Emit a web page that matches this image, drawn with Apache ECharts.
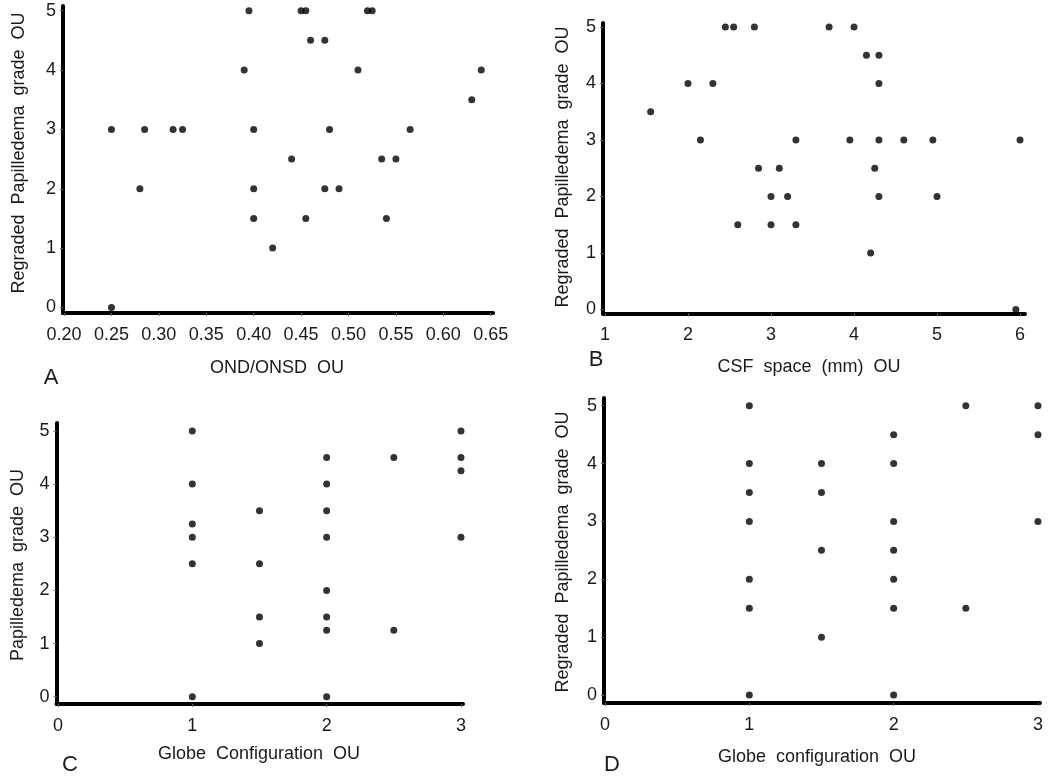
<!DOCTYPE html>
<html>
<head>
<meta charset="utf-8">
<script src="https://cdn.jsdelivr.net/npm/echarts@6/dist/echarts.min.js"></script>
<style>html,body{margin:0;padding:0;background:#fff}#c{width:1050px;height:778px}</style>
</head>
<body>
<div id="c"></div>
<script>
// ---- Panel A: OND/ONSD OU vs Regraded Papilledema grade OU
const aX = [0.25,0.25,0.28,0.285,0.315,0.325,0.39,0.395,0.40,0.40,0.40,0.42,0.44,0.45,0.455,0.46,0.475,0.455,0.475,0.48,0.49,0.51,0.52,0.525,0.535,0.55,0.54,0.565,0.63,0.64];
const aY = [3,0,2,3,3,3,4,5,3,2,1.5,1,2.5,5,5,4.5,4.5,1.5,2,3,2,4,5,5,2.5,2.5,1.5,3,3.5,4];
const aXTicks = [0.20,0.25,0.30,0.35,0.40,0.45,0.50,0.55,0.60,0.65];
// ---- Panel B: CSF space (mm) OU vs Regraded Papilledema grade OU
const bX = [1.55,2.0,2.3,2.15,2.45,2.55,2.8,3.7,4.0,4.15,4.3,4.3,3.3,3.95,4.3,4.6,4.95,6.0,2.85,3.1,4.25,3.0,3.2,4.3,5.0,2.6,3.0,3.3,4.2,5.95];
const bY = [3.5,4,4,3,5,5,5,5,5,4.5,4.5,4,3,3,3,3,3,3,2.5,2.5,2.5,2,2,2,2,1.5,1.5,1.5,1,0];
const bXTicks = [1,2,3,4,5,6];
// ---- Panel C: Globe Configuration OU vs Papilledema grade OU
const cX = [1,1,1,1,1,1,1.5,1.5,1.5,1.5,2,2,2,2,2,2,2,2,2.5,2.5,3,3,3,3];
const cY = [5,4,3.25,3,2.5,0,3.5,2.5,1.5,1,4.5,4,3.5,3,2,1.5,1.25,0,4.5,1.25,5,4.5,4.25,3];
// ---- Panel D: Globe configuration OU vs Regraded Papilledema grade OU
const dX = [1,1,1,1,1,1,1,1.5,1.5,1.5,1.5,2,2,2,2,2,2,2,2.5,2.5,3,3,3];
const dY = [5,4,3.5,3,2,1.5,0,4,3.5,2.5,1,4.5,4,3,2.5,2,1.5,0,5,1.5,5,4.5,3];
const globeTicks = [0,1,2,3];
const gradeTicks = [0,1,2,3,4,5];

const FONT = 'Liberation Sans, Arial, Helvetica, sans-serif';
const TXT = '#1a1a1a';

function zip(xs, ys){ return xs.map((x,i)=>[x, ys[i]]); }

const grids = [
  {left:63, top:6, width:430, height:307},
  {left:603, top:23, width:422, height:290.5},
  {left:56.5, top:423, width:406.5, height:281},
  {left:604, top:398, width:436, height:305}
];
const xRanges = [[0.1989,0.6524],[0.976,6.06],[-0.011,3.015],[-0.007,3.014]];
const yRanges = [[-0.093,5.079],[-0.071,5.071],[-0.137,5.15],[-0.138,5.133]];
const xTickSets = [aXTicks, bXTicks, globeTicks, globeTicks];

function axisCommon(){
  return {
    type:'value',
    splitLine:{show:false},
    axisLine:{show:true, onZero:false, lineStyle:{color:'#000', width:4}},
    axisTick:{show:true, length:3, lineStyle:{color:'#666', width:1}},
    axisLabel:{color:TXT, fontFamily:FONT, fontSize:18}
  };
}

const xAxes = grids.map((g,i)=>{
  const ax = axisCommon();
  ax.gridIndex = i;
  ax.min = xRanges[i][0]; ax.max = xRanges[i][1];
  ax.axisTick.customValues = xTickSets[i];
  ax.axisLabel.customValues = xTickSets[i];
  ax.axisLabel.margin = 13;
  ax.axisLabel.formatter = i===0 ? (v)=>v.toFixed(2) : (v)=>String(Math.round(v));
  return ax;
});
const yAxes = grids.map((g,i)=>{
  const ax = axisCommon();
  ax.gridIndex = i;
  ax.min = yRanges[i][0]; ax.max = yRanges[i][1];
  ax.axisTick.customValues = gradeTicks;
  ax.axisLabel.customValues = gradeTicks;
  ax.axisLabel.margin = 7;
  ax.axisLabel.formatter = (v)=>String(Math.round(v));
  return ax;
});

const datasets = [zip(aX,aY), zip(bX,bY), zip(cX,cY), zip(dX,dY)];
const series = datasets.map((d,i)=>({
  type:'scatter', xAxisIndex:i, yAxisIndex:i, data:d,
  symbol:'circle', symbolSize:7, itemStyle:{color:'#000'}, silent:true
}));

function txt(x,y,text,size,rot){
  return {type:'text', x:x, y:y, rotation: rot||0,
    style:{text:text, fill:TXT, font: size+'px '+FONT, align:'center', verticalAlign:'middle'}};
}
const graphic = [
  txt(19,153,'Regraded  Papilledema  grade  OU',18,Math.PI/2),
  txt(277,368,'OND/ONSD  OU',18),
  txt(51,378,'A',22),
  txt(563,167,'Regraded  Papilledema  grade  OU',18,Math.PI/2),
  txt(809,367,'CSF  space  (mm)  OU',18),
  txt(596,360,'B',22),
  txt(18,565,'Papilledema  grade  OU',18,Math.PI/2),
  txt(259,754,'Globe  Configuration  OU',18),
  txt(70,765,'C',22),
  txt(563,552,'Regraded  Papilledema  grade  OU',18,Math.PI/2),
  txt(817,757,'Globe  configuration  OU',18),
  txt(612,765,'D',22)
];

const chart = echarts.init(document.getElementById('c'), null, {renderer:'canvas'});
chart.setOption({
  animation:false,
  backgroundColor:'#fff',
  grid: grids,
  xAxis: xAxes,
  yAxis: yAxes,
  series: series,
  graphic: graphic
});
</script>
</body>
</html>
